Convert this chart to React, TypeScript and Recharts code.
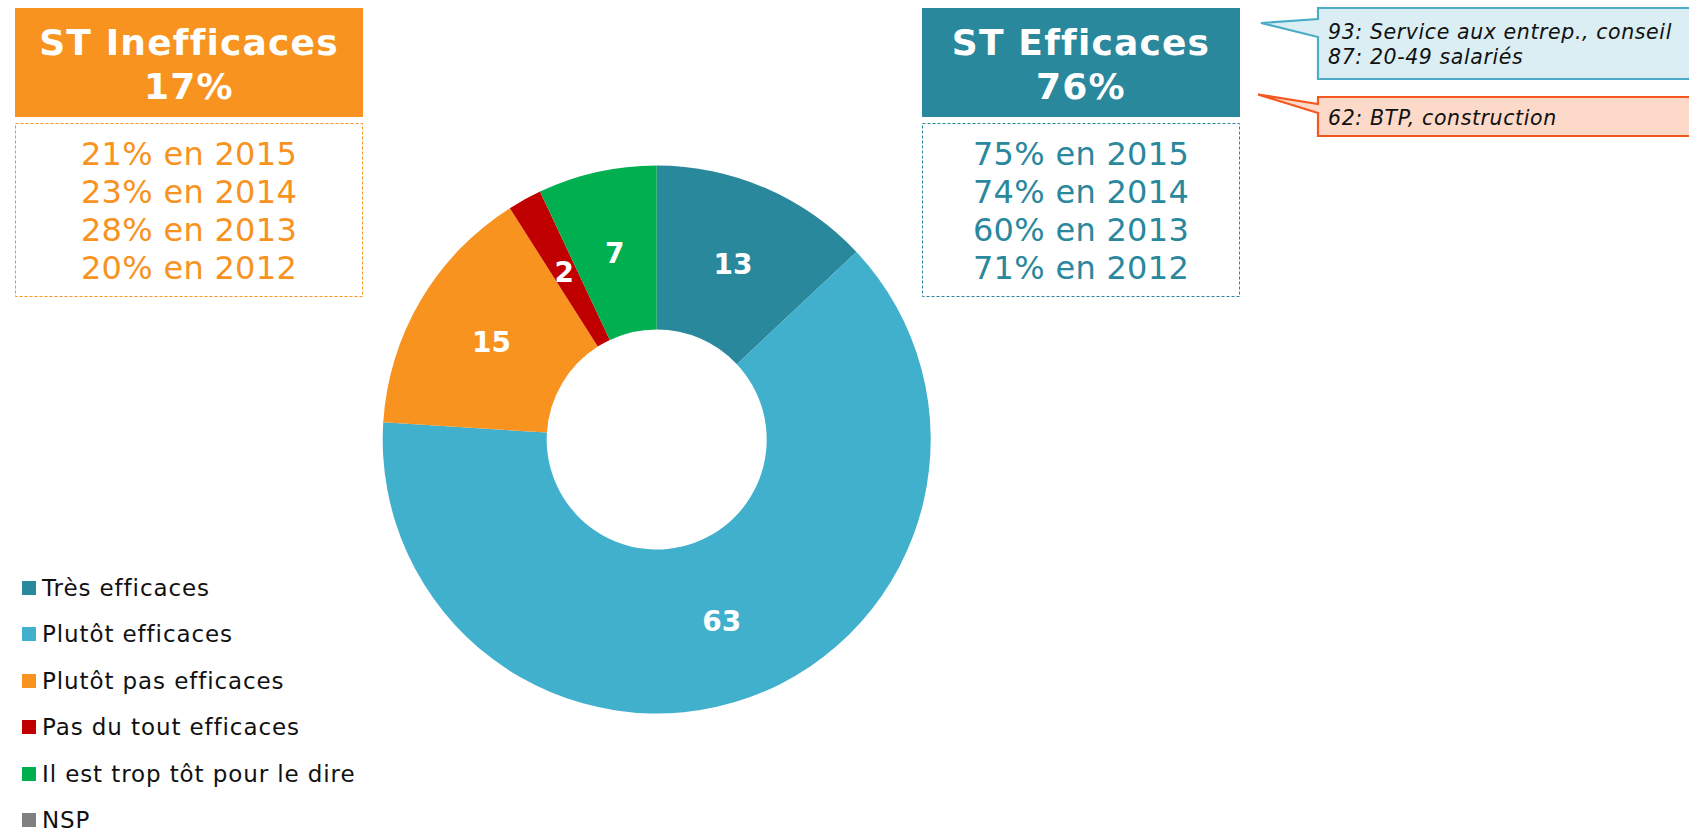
import { PieChart, Pie, Cell } from 'recharts'

// Répartition des réponses (%)
const categories = [
  'Très efficaces',
  'Plutôt efficaces',
  'Plutôt pas efficaces',
  'Pas du tout efficaces',
  'Il est trop tôt pour le dire',
  'NSP',
]
const values = [13, 63, 15, 2, 7, 0]
const colors = ['#2A889D', '#40B0CC', '#F7931E', '#C00000', '#00B050', '#808080']

const inefficacesTotal = '17%'
const inefficacesHistory = ['21% en 2015', '23% en 2014', '28% en 2013', '20% en 2012']
const efficacesTotal = '76%'
const efficacesHistory = ['75% en 2015', '74% en 2014', '60% en 2013', '71% en 2012']

const calloutBlue = ['93: Service aux entrep., conseil', '87: 20-49 salariés']
const calloutOrange = ['62: BTP, construction']

const W = 1689
const H = 828
const FONT = '"DejaVu Sans", Verdana, sans-serif'
const RAD = Math.PI / 180

const chartData = categories.map((name, i) => ({ name, value: values[i] }))

function SliceLabel({ cx, cy, midAngle, innerRadius, outerRadius, value }: any) {
  if (!value) return null
  const r = (innerRadius + outerRadius) / 2
  const x = cx + r * Math.cos(-midAngle * RAD)
  const y = cy + r * Math.sin(-midAngle * RAD) + 1
  return (
    <text
      x={x}
      y={y}
      fill="#fff"
      textAnchor="middle"
      dominantBaseline="central"
      style={{ fontFamily: FONT, fontSize: 28, fontWeight: 700 }}
    >
      {value}
    </text>
  )
}

function LegendList() {
  return (
    <div style={{ position: 'absolute', left: 22, top: 564.5, fontFamily: FONT }}>
      {categories.map((c, i) => (
        <div key={c} style={{ display: 'flex', alignItems: 'center', height: 46.5 }}>
          <span style={{ width: 14, height: 14, background: colors[i], marginRight: 6, flexShrink: 0 }} />
          <span style={{ fontSize: 23, lineHeight: '26px', color: '#111', letterSpacing: 0.9, whiteSpace: 'nowrap' }}>{c}</span>
        </div>
      ))}
    </div>
  )
}

// box with title + dashed history list
function SummaryBox({ x, w, color, title, total, history }: any) {
  const mid = x + w / 2
  const base = [165, 203, 241, 278.5]
  return (
    <g style={{ fontFamily: FONT }}>
      <rect x={x} y={8} width={w} height={109} fill={color} />
      <text x={mid} y={55} textAnchor="middle" fill="#fff" fontSize={36} fontWeight={700} letterSpacing={1.2}>{title}</text>
      <text x={mid} y={99} textAnchor="middle" fill="#fff" fontSize={36} fontWeight={700} letterSpacing={1.2}>{total}</text>
      <rect x={x + 0.5} y={123.5} width={w - 1} height={173} fill="none" stroke={color} strokeDasharray="3 2" />
      {history.map((t: string, i: number) => (
        <text key={t} x={mid} y={base[i]} textAnchor="middle" fill={color} fontSize={32} letterSpacing={0.3}>{t}</text>
      ))}
    </g>
  )
}

function Callout({ top, bottom, tipX, tipY, b1, b2, fill, stroke, lines, baseline }: any) {
  const left = 1318
  const right = W + 10
  const d = `M${left},${top} L${right},${top} L${right},${bottom} L${left},${bottom} L${left},${b2} L${tipX},${tipY} L${left},${b1} Z`
  return (
    <g>
      <path d={d} fill={fill} stroke={stroke} strokeWidth={2.2} strokeLinejoin="miter" />
      {lines.map((t: string, i: number) => (
        <text
          key={t}
          x={1328}
          y={baseline + i * 25}
          fill="#111"
          fontSize={20.5}
          fontStyle="italic"
          letterSpacing={0.6}
          style={{ fontFamily: FONT }}
        >
          {t}
        </text>
      ))}
    </g>
  )
}

export default function App() {
  return (
    <div style={{ position: 'absolute', left: 0, top: 0, width: W, height: H, background: '#fff' }}>
      <PieChart width={W} height={H} margin={{ top: 0, right: 0, bottom: 0, left: 0 }}>
        <Pie
          data={chartData}
          dataKey="value"
          nameKey="name"
          cx={656.7}
          cy={439.5}
          innerRadius={110}
          outerRadius={274}
          startAngle={90}
          endAngle={-270}
          stroke="none"
          label={SliceLabel}
          labelLine={false}
          isAnimationActive={false}
        >
          {chartData.map((d, i) => (
            <Cell key={d.name} fill={colors[i]} />
          ))}
        </Pie>
      </PieChart>
      <LegendList />
      <svg width={W} height={H} style={{ position: 'absolute', left: 0, top: 0, pointerEvents: 'none' }}>
        <SummaryBox x={15} w={348} color="#F7931E" title="ST Inefficaces" total={inefficacesTotal} history={inefficacesHistory} />
        <SummaryBox x={922} w={318} color="#2A889D" title="ST Efficaces" total={efficacesTotal} history={efficacesHistory} />
        <Callout top={8} bottom={79} tipX={1261} tipY={23} b1={19} b2={37} fill="#DAEEF3" stroke="#4BACC6" lines={calloutBlue} baseline={38.5} />
        <Callout top={97} bottom={136} tipX={1258} tipY={94.5} b1={104} b2={113} fill="#FCD9C8" stroke="#F4581E" lines={calloutOrange} baseline={124.5} />
      </svg>
    </div>
  )
}
